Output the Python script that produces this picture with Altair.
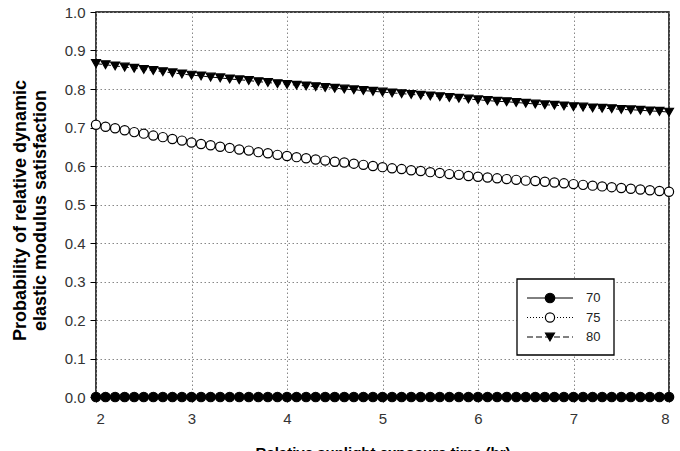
import altair as alt
import pandas as pd

# ---------------- data ----------------
series_names = ["70", "75", "80"]
x_hours = [round(2 + i * 0.1, 1) for i in range(61)]  # sampling times 2.0 ... 8.0 hr

p70 = [0.0] * 61

p75 = [0.707, 0.702, 0.698, 0.693, 0.688, 0.684, 0.679, 0.675, 0.670, 0.666,
       0.661, 0.657, 0.654, 0.650, 0.647, 0.643, 0.640, 0.636, 0.633, 0.629,
       0.626, 0.623, 0.620, 0.617, 0.614, 0.611, 0.609, 0.606, 0.603, 0.600,
       0.597, 0.594, 0.592, 0.589, 0.587, 0.584, 0.582, 0.579, 0.577, 0.574,
       0.572, 0.570, 0.568, 0.566, 0.564, 0.562, 0.561, 0.559, 0.557, 0.555,
       0.553, 0.551, 0.549, 0.547, 0.545, 0.543, 0.541, 0.539, 0.537, 0.535,
       0.533]

p80 = [0.866, 0.863, 0.860, 0.857, 0.854, 0.851, 0.848, 0.845, 0.842, 0.839,
       0.836, 0.834, 0.831, 0.829, 0.826, 0.824, 0.822, 0.819, 0.817, 0.814,
       0.812, 0.810, 0.808, 0.806, 0.804, 0.802, 0.800, 0.798, 0.796, 0.794,
       0.792, 0.790, 0.788, 0.786, 0.784, 0.782, 0.780, 0.778, 0.776, 0.774,
       0.772, 0.770, 0.768, 0.767, 0.765, 0.763, 0.761, 0.759, 0.758, 0.756,
       0.754, 0.753, 0.751, 0.750, 0.749, 0.747, 0.746, 0.745, 0.743, 0.742,
       0.740]

x_ticks = [2, 3, 4, 5, 6, 7, 8]
y_ticks = [0.0, 0.1, 0.2, 0.3, 0.4, 0.5, 0.6, 0.7, 0.8, 0.9, 1.0]

x_title = "Relative sunlight exposure time (hr)"
y_title = ["Probability of relative dynamic", "elastic modulus satisfaction"]

# ---------------- tables ----------------
rows = []
for name, vals in zip(series_names, [p70, p75, p80]):
    for xv, yv in zip(x_hours, vals):
        rows.append({"x": xv, "p": yv, "series": name})
df = pd.DataFrame(rows)
leg_df = pd.DataFrame({"series": series_names})
box_df = pd.DataFrame({"k": [0]})

FONT = "Liberation Sans"

xs = alt.Scale(domain=[2, 8], nice=False, zero=False)
ys = alt.Scale(domain=[0, 1], nice=False, zero=False)

X = alt.X("x:Q", scale=xs,
          axis=alt.Axis(values=x_ticks, title=x_title, format="d",
                        labelFontSize=15, labelPadding=9, tickSize=5,
                        titleFontSize=15, titleFontWeight="bold",
                        titleY=48, titleBaseline="top"))
Y = alt.Y("p:Q", scale=ys,
          axis=alt.Axis(values=y_ticks, format=".1f", title=y_title,
                        labelFontSize=15, labelPadding=5, tickSize=6,
                        titleFontSize=18, titleFontWeight="bold",
                        titleLineHeight=20, titleAngle=-90,
                        titleAlign="center", titleBaseline="middle",
                        titleX=-76, titleY=198))

shape_scale = alt.Scale(domain=series_names, range=["circle", "circle", "triangle-down"])
fill_scale = alt.Scale(domain=series_names, range=["black", "white", "black"])
dash_scale = alt.Scale(domain=series_names, range=[[1, 0], [1, 2], [6, 3]])
size_scale = alt.Scale(domain=series_names, range=[90, 80, 115])

lines = alt.Chart(df).mark_line(color="black", strokeWidth=1).encode(
    x=X, y=Y,
    strokeDash=alt.StrokeDash("series:N", scale=dash_scale, legend=None),
)
points = alt.Chart(df).mark_point(stroke="black", strokeWidth=1.2, opacity=1).encode(
    x=X, y=Y,
    shape=alt.Shape("series:N", scale=shape_scale, legend=None),
    fill=alt.Fill("series:N", scale=fill_scale, legend=None),
    size=alt.Size("series:N", scale=size_scale, legend=None),
)
data_layer = alt.layer(lines, points)

# ---------------- hand-built legend ----------------
ly = alt.Y("series:N",
           scale=alt.Scale(type="point", domain=series_names, range=[286, 325], padding=0),
           axis=None)

leg_box = alt.Chart(box_df).mark_rect(fill="white", stroke="black", strokeWidth=1.3).encode(
    x=alt.value(421), x2=alt.value(518), y=alt.value(267), y2=alt.value(343)
)
leg_lines = alt.Chart(leg_df).mark_rule(color="black", strokeWidth=1).encode(
    x=alt.value(431), x2=alt.value(477), y=ly,
    strokeDash=alt.StrokeDash("series:N", scale=dash_scale, legend=None),
)
leg_pts = alt.Chart(leg_df).mark_point(stroke="black", strokeWidth=1.2, opacity=1).encode(
    x=alt.value(454), y=ly,
    shape=alt.Shape("series:N", scale=shape_scale, legend=None),
    fill=alt.Fill("series:N", scale=fill_scale, legend=None),
    size=alt.Size("series:N", scale=size_scale, legend=None),
)
leg_txt = alt.Chart(leg_df).mark_text(align="left", baseline="middle", fontSize=13,
                                      font=FONT, color="#222").encode(
    x=alt.value(490), y=ly, text="series:N"
)
legend_layer = alt.layer(leg_box, leg_lines, leg_pts, leg_txt)

chart = alt.layer(data_layer, legend_layer).resolve_scale(y="independent").properties(
    width=573, height=385,
    autosize=alt.AutoSizeParams(type="none"),
    padding={"left": 96, "top": 12, "right": 11, "bottom": 54},
    background="white",
).configure_view(
    stroke="black", strokeWidth=1.5
).configure_axis(
    gridColor="#888", gridDash=[1.5, 2.5], gridWidth=1, domain=False,
    labelFont=FONT, titleFont=FONT, labelColor="#333", titleColor="black",
    tickColor="black",
)

chart.save("out.html", embed_options={"renderer": "svg", "actions": False})
